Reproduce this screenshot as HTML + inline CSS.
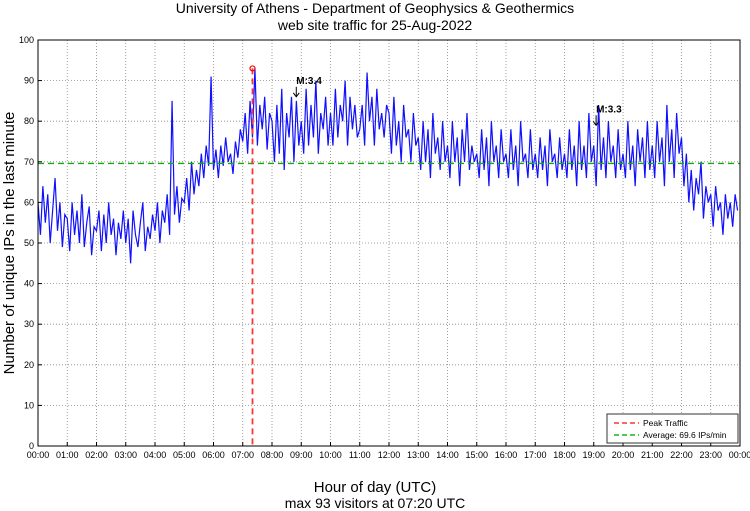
<!DOCTYPE html>
<html><head><meta charset="utf-8"><style>
body{margin:0;background:#fff;}
svg{display:block;font-family:"Liberation Sans",sans-serif;}
</style></head><body>
<svg id="chart" width="750" height="511">
<text x="375" y="13" text-anchor="middle" font-size="14">University of Athens - Department of Geophysics &amp; Geothermics</text>
<text x="375" y="30" text-anchor="middle" font-size="14">web site traffic for 25-Aug-2022</text>
<text transform="translate(14,243) rotate(-90)" text-anchor="middle" font-size="15">Number of unique IPs in the last minute</text>
<text x="375" y="492" text-anchor="middle" font-size="15">Hour of day (UTC)</text>
<text x="375" y="508" text-anchor="middle" font-size="14">max 93 visitors at 07:20 UTC</text>
<g id="grid"></g><g id="series"></g><g id="marks"></g>
<rect x="38" y="40" width="702" height="406" fill="none" stroke="#000" stroke-width="1"/>
<g>
<rect x="607" y="414" width="131" height="29" fill="#fff" stroke="#333" stroke-width="1"/>
<line x1="614" y1="423" x2="639" y2="423" stroke="#f33" stroke-width="1.5" stroke-dasharray="5,3"/>
<text x="643" y="426" font-size="8.5">Peak Traffic</text>
<line x1="614" y1="435" x2="639" y2="435" stroke="#1b1" stroke-width="1.5" stroke-dasharray="5,3"/>
<text x="643" y="438" font-size="8.5">Average: 69.6 IPs/min</text>
</g>
</svg>
<script>
const yTicks=[0,10,20,30,40,50,60,70,80,90,100];
const xTickLabels=["00:00","01:00","02:00","03:00","04:00","05:00","06:00","07:00","08:00","09:00","10:00","11:00","12:00","13:00","14:00","15:00","16:00","17:00","18:00","19:00","20:00","21:00","22:00","23:00","00:00"];
const traffic=[
60,52,64,55,62,50,58,66,53,60,49,57,
56,48,60,52,58,50,62,49,55,59,47,54,
53,58,48,57,50,60,52,56,47,55,51,58,
50,56,45,58,52,49,55,60,48,54,51,57,
53,60,50,58,55,62,52,85,57,64,55,61,
60,66,58,70,62,68,64,72,66,74,69,91,
68,73,66,74,69,76,70,72,67,75,71,78,
75,82,72,85,76,93,74,84,78,86,73,82,
80,70,84,72,88,68,82,76,86,70,85,74,
80,72,88,74,84,76,90,72,82,78,86,74,
82,74,88,76,84,80,90,74,86,78,84,76,
78,84,74,92,80,86,74,88,78,82,76,84,
82,72,86,74,80,70,84,76,78,70,82,74,
76,68,80,70,78,66,82,72,76,68,80,70,
74,66,80,70,76,64,78,70,82,68,74,70,
72,66,78,68,76,64,80,70,74,66,78,70,
72,66,78,68,74,64,80,70,72,66,78,68,
72,66,76,68,74,64,78,70,72,66,76,68,
72,66,78,68,74,64,80,68,74,66,82,70,
74,64,84,68,76,66,80,70,74,66,78,68,
72,66,80,68,74,64,78,70,76,66,80,68,
74,66,80,70,76,64,84,70,78,66,82,72,
76,64,72,60,68,58,66,62,70,56,64,60,
62,54,64,58,60,52,62,56,60,54,62,58];
const average=[69.6];
const peakHour=[7+20/60];const peakValue=[93];
const quakeHours=[8.83,19.08];const quakeValues=[86,79];const quakeLabels=["M:3.4","M:3.3"];
const NS="http://www.w3.org/2000/svg";
const L=38,R=740,T=40,B=446;
const xs=h=>L+h/24*(R-L);
const ys=v=>B-v/100*(B-T);
function mk(tag,attrs,parent){const e=document.createElementNS(NS,tag);for(const k in attrs)e.setAttribute(k,attrs[k]);parent.appendChild(e);return e;}
const grid=document.getElementById('grid');
yTicks.forEach(v=>{
 if(v>0&&v<100){const g=mk('line',{x1:L,x2:R,y1:ys(v),y2:ys(v),stroke:'#888','stroke-width':0.8,'stroke-dasharray':'1,2'},grid);
 
 }
 const t=mk('text',{x:L-4,y:ys(v)+3,'text-anchor':'end','font-size':9},grid);t.textContent=v;
 
 
 mk('line',{x1:L,x2:L+4,y1:ys(v),y2:ys(v),stroke:'#000'},grid);
});
xTickLabels.forEach((lab,i)=>{
 const x=xs(i);
 if(i>0&&i<24){const g=mk('line',{x1:x,x2:x,y1:T,y2:B,stroke:'#888','stroke-width':0.8,'stroke-dasharray':'1,2'},grid);
 
 }
 mk('line',{x1:x,x2:x,y1:B,y2:B-4,stroke:'#000'},grid);
 const t=mk('text',{x:x,y:B+12,'text-anchor':'middle','font-size':9},grid);t.textContent=lab;
 
 
});
const ser=document.getElementById('series');
const n=traffic.length;
const pts=traffic.map((v,i)=>xs(i*24/n)+','+ys(v)).join(' ');
const pl=mk('polyline',{points:pts,fill:'none',stroke:'#1010ff','stroke-width':1.2,'stroke-linejoin':'miter'},ser);


const marks=document.getElementById('marks');
const av=mk('line',{x1:L,x2:R,y1:ys(average[0]),y2:ys(average[0]),stroke:'#1a1','stroke-width':1.3,'stroke-dasharray':'6,4'},marks);


const pk=mk('line',{x1:xs(peakHour[0]),x2:xs(peakHour[0]),y1:ys(peakValue[0]),y2:B,stroke:'#f33','stroke-width':1.8,'stroke-dasharray':'6,4'},marks);


const pc=mk('circle',{cx:xs(peakHour[0]),cy:ys(peakValue[0]),r:2.5,fill:'none',stroke:'#f00','stroke-width':1.2},marks);


quakeHours.forEach((h,i)=>{
 const x=xs(h),y=ys(quakeValues[i]);
 const g=mk('g',{},marks);
 
 
 mk('line',{x1:x,x2:x,y1:y-10,y2:y,stroke:'#000','stroke-width':1},g);
 mk('path',{d:`M${x-3},${y-4}L${x},${y}L${x+3},${y-4}`,fill:'none',stroke:'#000','stroke-width':1},g);
 const t=mk('text',{x:x,y:y-13,'font-size':10,'font-weight':'bold'},g);t.textContent=quakeLabels[i];
});
</script>
</body></html>
